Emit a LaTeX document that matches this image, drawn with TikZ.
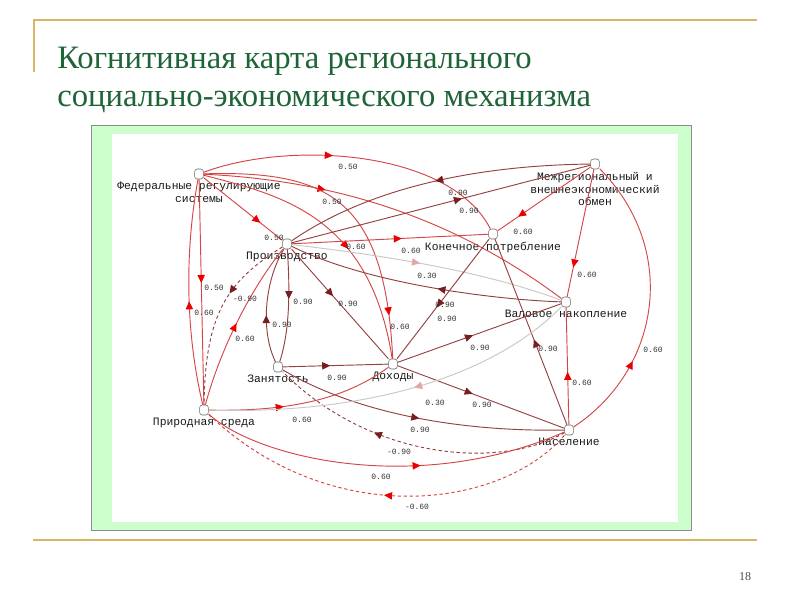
\documentclass[tikz,border=0pt]{standalone}
\usepackage{fontspec}
\setmainfont{Liberation Serif}
\newfontfamily\monofont{Liberation Mono}
\usetikzlibrary{arrows.meta,positioning,decorations.markings}

\definecolor{slidegold}{RGB}{214,184,100}
\definecolor{titlegreen}{RGB}{30,100,55}
\definecolor{mint}{RGB}{204,255,204}
\definecolor{redline}{RGB}{212,70,70}
\definecolor{redtip}{RGB}{235,0,0}
\definecolor{brownline}{RGB}{150,65,65}
\definecolor{browntip}{RGB}{120,30,30}
\definecolor{greyline}{RGB}{200,200,200}
\definecolor{greytip}{RGB}{230,165,165}

\tikzset{
  concept/.style={draw=black!60,fill=white,rounded corners=2pt,
    minimum width=6.5pt,minimum height=7.5pt,inner sep=0pt},
  lbl/.style={font=\monofont\fontsize{8.5}{9.6}\selectfont,align=center,
    inner sep=0.5pt,text=black!90},
  wt/.style={font=\monofont\fontsize{6}{7}\selectfont,inner sep=0pt,text=black!80},
  title/.style={font=\fontsize{24.5}{29}\selectfont,text=titlegreen,inner sep=0pt},
  redlink/.style={line width=0.7pt,draw=redline,postaction={decorate,
    decoration={markings,mark=at position #1 with
      {\arrow{Triangle[length=6pt,width=5.5pt,color=redtip]}}}}},
  brownlink/.style={line width=0.7pt,draw=brownline,postaction={decorate,
    decoration={markings,mark=at position #1 with
      {\arrow{Triangle[length=6pt,width=5.5pt,color=browntip]}}}}},
  greylink/.style={line width=0.7pt,draw=greyline,postaction={decorate,
    decoration={markings,mark=at position #1 with
      {\arrow{Triangle[length=6pt,width=5.5pt,color=greytip]}}}}},
  neg/.style={dash pattern=on 2.5pt off 2pt},
}

\begin{document}
\begin{tikzpicture}[x=0.75pt,y=-0.75pt]
  \useasboundingbox (0,0) rectangle (800,600);
  % slide frame
  \draw[slidegold,line width=0.9pt] (33,20) -- (757,20);
  \draw[slidegold,line width=0.9pt] (34,20) -- (34,72);
  \draw[slidegold,line width=0.9pt] (33,540) -- (757,540);
  \node[title,anchor=base west] (t1) at (57,68) {Когнитивная карта регионального};
  \node[title,anchor=base west] (t2) at (57,106) {социально-экономического механизма};
  \node[font=\fontsize{9}{10}\selectfont,text=black!70] (pg) at (745,577) {18};

  % picture panel
  \draw[black!45,fill=mint,line width=0.5pt] (91,125) rectangle (691,530);
  \fill[white] (112,134) rectangle (678,522);

  % concepts
  \node[concept] (F) at (199,174) {};
  \node[concept] (P) at (287,244) {};
  \node[concept] (M) at (595,164) {};
  \node[concept] (K) at (493,234) {};
  \node[concept] (V) at (566,302) {};
  \node[concept] (Z) at (278,367) {};
  \node[concept] (D) at (393,364) {};
  \node[concept] (R) at (204,410) {};
  \node[concept] (N) at (569,430) {};
  \node[lbl,below=1.5pt of F] (Ftxt) {Федеральные регулирующие\\системы};
  \node[lbl,below=1.5pt of P] (Ptxt) {Производство};
  \node[lbl,below=1.5pt of M] (Mtxt) {Межрегиональный и\\внешнеэкономический\\обмен};
  \node[lbl,below=1.5pt of K] (Ktxt) {Конечное потребление};
  \node[lbl,below=1.5pt of V] (Vtxt) {Валовое накопление};
  \node[lbl,below=1.5pt of Z] (Ztxt) {Занятость};
  \node[lbl,below=1.5pt of D] (Dtxt) {Доходы};
  \node[lbl,below=1.5pt of R] (Rtxt) {Природная среда};
  \node[lbl,below=1.5pt of N] (Ntxt) {Население};

  % links from the federal systems
  \draw[redlink=0.42] (F) .. controls (290,140) and (450,150) .. (K);
  \draw[redlink=0.32] (F) .. controls (330,180) and (450,215) .. (V);
  \draw[redlink=0.72] (F) -- (P);
  \draw[redlink=0.86] (F) .. controls (330,170) and (385,200) .. (D);
  \draw[redlink=0.58] (F) .. controls (280,195) and (370,215) .. (D);
  \draw[redlink=0.46] (F) -- (R);
  \draw[redlink=0.46] (R) .. controls (185,330) and (185,250) .. (F);
  % production
  \draw[redlink=0.5] (R) .. controls (220,350) and (250,290) .. (P);
  \draw[brownlink=0.38,neg] (P) .. controls (230,280) and (205,310) .. (R);
  \draw[redlink=0.56] (P) -- (K);
  \draw[brownlink=0.5] (M) .. controls (500,165) and (380,180) .. (P);
  \draw[brownlink=0.57] (P) -- (M);
  \draw[greylink=0.47] (P) .. controls (380,255) and (480,270) .. (V);
  \draw[brownlink=0.45] (V) .. controls (500,300) and (370,285) .. (P);
  \draw[brownlink=0.44] (P) .. controls (290,290) and (290,330) .. (Z);
  \draw[brownlink=0.41] (Z) .. controls (260,330) and (265,280) .. (P);
  \draw[brownlink=0.43] (P) -- (D);
  % consumption, accumulation, exchange
  \draw[redlink=0.78] (M) -- (K);
  \draw[brownlink=0.57] (K) -- (D);
  \draw[redlink=0.77] (M) -- (V);
  \draw[redlink=0.45] (N) -- (V);
  \draw[redlink=0.3] (N) .. controls (660,370) and (680,250) .. (M);
  \draw[brownlink=0.46] (N) -- (K);
  % employment and incomes
  \draw[brownlink=0.45] (Z) -- (D);
  \draw[brownlink=0.46] (D) -- (V);
  \draw[brownlink=0.45] (D) -- (N);
  \draw[brownlink=0.5] (Z) .. controls (350,410) and (450,432) .. (N);
  \draw[brownlink=0.64,neg] (N) .. controls (500,470) and (370,460) .. (Z);
  % environment
  \draw[redlink=0.4] (R) .. controls (300,412) and (350,395) .. (D);
  \draw[greylink=0.45] (V) .. controls (500,370) and (380,415) .. (R);
  \draw[redlink=0.6] (R) .. controls (260,460) and (420,495) .. (N);
  \draw[redlink=0.5,neg] (N) .. controls (500,510) and (330,530) .. (R);

  % weights
  \node[wt] (w1) at (348,167) {0.50};
  \node[wt] (w2) at (332,202) {0.50};
  \node[wt] (w3) at (274,238) {0.50};
  \node[wt] (w4) at (356,247) {0.60};
  \node[wt] (w5) at (400,327) {0.60};
  \node[wt] (w6) at (214,288) {0.50};
  \node[wt] (w7) at (204,313) {0.60};
  \node[wt] (w8) at (245,339) {0.60};
  \node[wt] (w9) at (245,299) {-0.90};
  \node[wt] (w10) at (411,251) {0.60};
  \node[wt] (w11) at (458,193) {0.90};
  \node[wt] (w12) at (469,211) {0.90};
  \node[wt] (w13) at (427,276) {0.30};
  \node[wt] (w14) at (445,305) {0.90};
  \node[wt] (w15) at (303,302) {0.90};
  \node[wt] (w16) at (282,325) {0.90};
  \node[wt] (w17) at (348,304) {0.90};
  \node[wt] (w18) at (523,232) {0.60};
  \node[wt] (w19) at (447,319) {0.90};
  \node[wt] (w20) at (587,275) {0.60};
  \node[wt] (w21) at (582,383) {0.60};
  \node[wt] (w22) at (653,350) {0.60};
  \node[wt] (w23) at (548,349) {0.90};
  \node[wt] (w24) at (337,378) {0.90};
  \node[wt] (w25) at (480,348) {0.90};
  \node[wt] (w26) at (482,405) {0.90};
  \node[wt] (w27) at (420,430) {0.90};
  \node[wt] (w28) at (399,452) {-0.90};
  \node[wt] (w29) at (302,420) {0.60};
  \node[wt] (w30) at (435,403) {0.30};
  \node[wt] (w31) at (381,477) {0.60};
  \node[wt] (w32) at (417,507) {-0.60};
\end{tikzpicture}
\end{document}
